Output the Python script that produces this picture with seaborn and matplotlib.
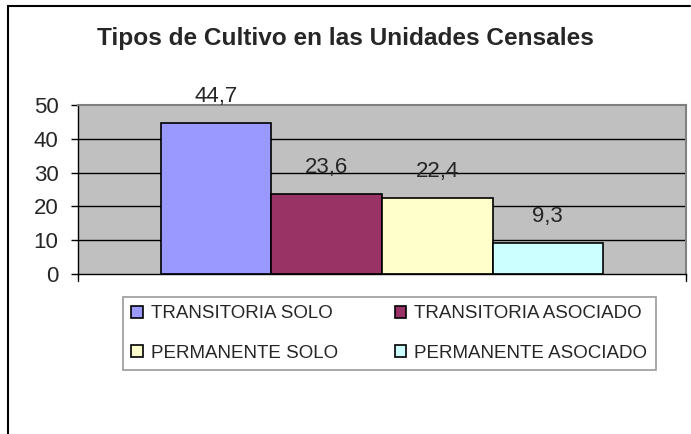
import matplotlib
matplotlib.use("Agg")
import matplotlib.pyplot as plt
import seaborn as sns
import pandas as pd
from matplotlib.lines import Line2D

categorias = ["TRANSITORIA SOLO", "TRANSITORIA ASOCIADO",
              "PERMANENTE SOLO", "PERMANENTE ASOCIADO"]
valores = [44.7, 23.6, 22.4, 9.3]
etiquetas = ["44,7", "23,6", "22,4", "9,3"]
colores = ["#9999FF", "#993366", "#FFFFCC", "#CCFFFF"]
y_ticks = [0, 10, 20, 30, 40, 50]

sns.set_style("white")
plt.rcParams['font.family'] = ['Liberation Sans', 'DejaVu Sans']

df = pd.DataFrame({"grupo": [""] * 4, "valor": valores, "tipo": categorias})

fig = plt.figure(figsize=(6.91, 4.34), dpi=100)
ax = fig.add_axes([78 / 691, 160 / 434, 608 / 691, 169 / 434])

sns.barplot(ax=ax, data=df, x="grupo", y="valor", hue="tipo",
            hue_order=categorias, palette=colores, width=0.727,
            edgecolor="black", linewidth=1.2, saturation=1, legend=False)

ax.set_facecolor("#C0C0C0")
ax.set_ylim(0, 50)
ax.set_xlim(-0.5, 0.5)
ax.set_yticks(y_ticks)
ax.set_yticklabels([str(t) for t in y_ticks], fontsize=16)
ax.set_xticks([])
ax.set_xlabel("")
ax.set_ylabel("")
ax.tick_params(axis="y", direction="out", length=5, width=1, color="black", left=True, pad=9)
for t in y_ticks[1:-1]:
    ax.axhline(t, color="black", linewidth=1, zorder=0.5)
ax.set_axisbelow(True)

for s in ["left", "bottom"]:
    ax.spines[s].set_color("black")
    ax.spines[s].set_linewidth(1)
for s in ["top", "right"]:
    ax.spines[s].set_color("#808080")
    ax.spines[s].set_linewidth(1.5)

# etiquetas de datos
for bar, lab in zip(ax.patches, etiquetas):
    ax.annotate(lab, (bar.get_x() + bar.get_width() / 2, bar.get_height()),
                xytext=(0, 19), textcoords="offset points",
                ha="center", va="center", fontsize=16)

# ticks en los extremos del eje x
ax.plot([1, 1], [0, -0.04], transform=ax.transAxes, color="black",
        linewidth=1, clip_on=False)
ax.plot([0, 0], [0, -0.04], transform=ax.transAxes, color="black",
        linewidth=1, clip_on=False)

fig.text(345 / 691, 1 - 38 / 434, "Tipos de Cultivo en las Unidades Censales",
         ha="center", va="center", fontsize=17.6, fontweight="bold")

# orden por columnas para que las filas queden como en el original
orden = [0, 2, 1, 3]
handles = [plt.Rectangle((0, 0), 1, 1, facecolor=colores[i], edgecolor="black", linewidth=1.2)
           for i in orden]
leg = fig.legend(handles, [categorias[i] for i in orden], ncol=2, loc="upper left",
                 bbox_to_anchor=(123 / 691, 1 - 297 / 434), fontsize=13.5,
                 frameon=True, fancybox=False, edgecolor="#808080",
                 handlelength=0.6, handleheight=0.6, handletextpad=0.45,
                 columnspacing=3.0, labelspacing=1.2, borderpad=0.45,
                 borderaxespad=0)
leg.get_frame().set_linewidth(1.2)

# borde exterior
fig.add_artist(Line2D([8 / 691, 8 / 691], [0, 1 - 6 / 434], color="black",
                      linewidth=1.5, transform=fig.transFigure))
fig.add_artist(Line2D([8 / 691, 690 / 691], [1 - 6 / 434, 1 - 6 / 434],
                      color="black", linewidth=1.5, transform=fig.transFigure))

fig.savefig("out.png", dpi=100)
